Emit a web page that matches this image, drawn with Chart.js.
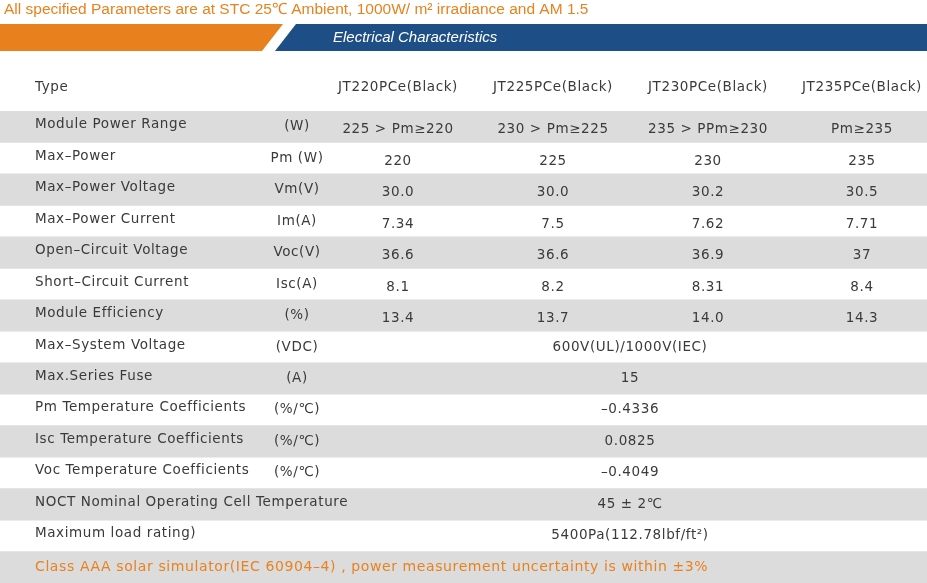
<!DOCTYPE html>
<html><head><meta charset="utf-8">
<script src="https://cdn.jsdelivr.net/npm/chart.js@4"></script>
<style>html,body{margin:0;padding:0;background:#fff}#w{width:927px;height:583px;position:relative}</style>
</head><body><div id="w"><canvas id="c"></canvas></div>
<script>
const title = "All specified Parameters are at STC 25\u2103 Ambient, 1000W/ m\u00b2 irradiance and AM 1.5";
const banner = "Electrical Characteristics";
const models = ["JT220PCe(Black)","JT225PCe(Black)","JT230PCe(Black)","JT235PCe(Black)"];
const rowNames = ["Module Power Range","Max\u2013Power","Max\u2013Power Voltage","Max\u2013Power Current","Open\u2013Circuit Voltage","Short\u2013Circuit Current","Module Efficiency","Max\u2013System Voltage","Max.Series Fuse","Pm Temperature Coefficients","Isc Temperature Coefficients","Voc Temperature Coefficients","NOCT Nominal Operating Cell Temperature","Maximum load rating)","footer"];
const units = ["(W)","Pm (W)","Vm(V)","Im(A)","Voc(V)","Isc(A)","(%)","(VDC)","(A)","(%/\u2103)","(%/\u2103)","(%/\u2103)","","",""];
const values = [
 ["225 > Pm\u2265220","230 > Pm\u2265225","235 > PPm\u2265230","Pm\u2265235"],
 ["220","225","230","235"],
 ["30.0","30.0","30.2","30.5"],
 ["7.34","7.5","7.62","7.71"],
 ["36.6","36.6","36.9","37"],
 ["8.1","8.2","8.31","8.4"],
 ["13.4","13.7","14.0","14.3"],
 ["600V(UL)/1000V(IEC)"],["15"],["\u20130.4336"],["0.0825"],["\u20130.4049"],["45 \u00b1 2\u2103"],["5400Pa(112.78lbf/ft\u00b2)"],[]
];
const shaded = [1,0,1,0,1,0,1,0,1,0,1,0,1,0,1];
const footer = "Class AAA solar simulator(IEC 60904\u20134) , power measurement uncertainty is within \u00b13%";
const colX = [398,553,708,862];

const textPlugin = {
 id:'tbl',
 beforeDraw(ch){
  const c=ch.ctx; c.save();
  c.fillStyle='#e8821e'; c.font='15.5px "Liberation Sans"'; c.textBaseline='middle'; c.textAlign='left';
  c.fillText(title,4,10);
  c.fillStyle='#e8801e'; c.beginPath(); c.moveTo(0,24);c.lineTo(283,24);c.lineTo(262,51);c.lineTo(0,51);c.fill();
  c.fillStyle='#1d4e86'; c.beginPath(); c.moveTo(296,24);c.lineTo(927,24);c.lineTo(927,51);c.lineTo(275,51);c.fill();
  c.fillStyle='#fff'; c.font='italic 15px "Liberation Sans"'; c.fillText(banner,333,38);
  c.restore();
 },
 afterDatasetsDraw(ch){
  const c=ch.ctx, y=ch.scales.y; c.save(); c.textBaseline='middle';
  c.letterSpacing='0.6px';
  c.fillStyle='#3a3a3a'; c.font='13.5px "DejaVu Sans"';
  c.textAlign='left'; c.fillText("Type",35,87);
  c.textAlign='center'; models.forEach((m,i)=>c.fillText(m,colX[i],87));
  rowNames.forEach((r,i)=>{
   const py=y.getPixelForValue(i);
   if(r==='footer'){c.fillStyle='#e8821e';c.textAlign='left';c.font='14px "DejaVu Sans"';c.fillText(footer,35,py);return;}
   c.fillStyle='#3a3a3a'; c.textAlign='left'; c.fillText(r,35,py-2);
   c.textAlign='center'; if(units[i]) c.fillText(units[i],297,py);
   const v=values[i];
   if(v.length===4) v.forEach((t,k)=>c.fillText(t,colX[k],py+3));
   else if(v.length===1) c.fillText(v[0],630,py);
  });
  c.restore();
 }
};

new Chart(document.getElementById('c'),{
 type:'bar',
 data:{labels:rowNames,datasets:[{data:shaded.map(s=>s?[0,1]:null),backgroundColor:'#dcdcdc',barPercentage:1,categoryPercentage:1,borderWidth:0}]},
 options:{indexAxis:'y',responsive:true,maintainAspectRatio:false,animation:false,
  layout:{padding:{top:111,left:0,right:0,bottom:0}},
  plugins:{legend:{display:false},tooltip:{enabled:false}},
  scales:{x:{display:false,min:0,max:1},y:{display:false}}},
 plugins:[textPlugin]
});
</script></body></html>
